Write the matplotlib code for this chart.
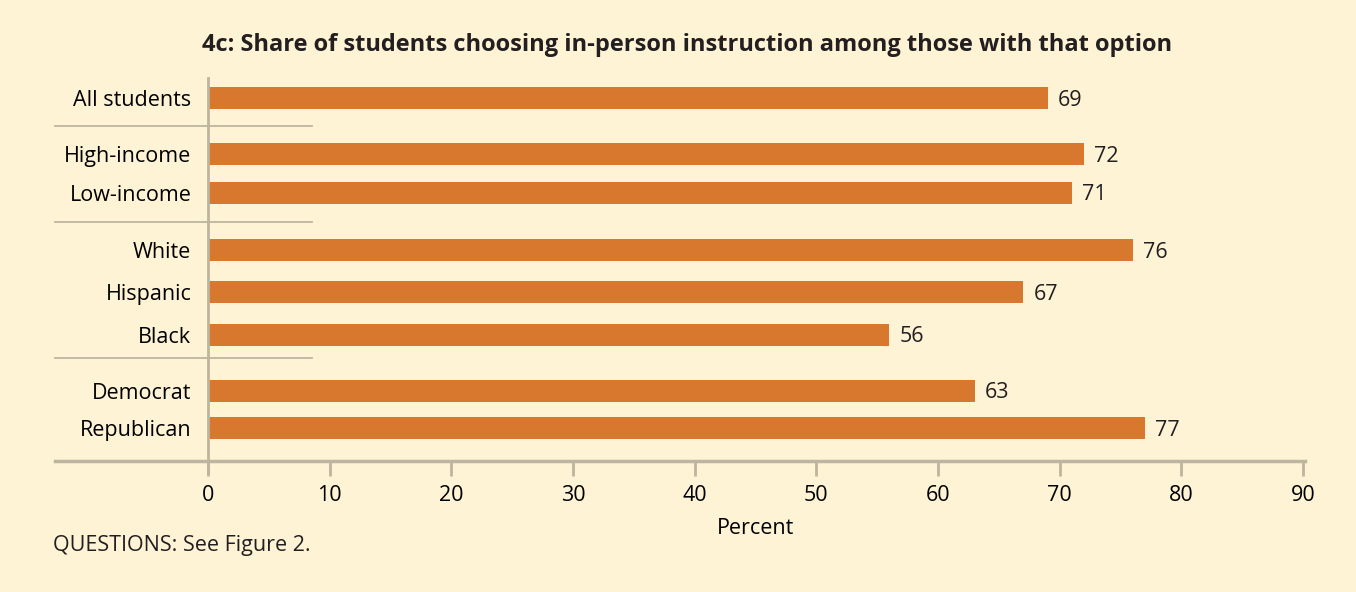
import matplotlib.pyplot as plt
from matplotlib.lines import Line2D

groups = ['All students', 'High-income', 'Low-income', 'White', 'Hispanic',
          'Black', 'Democrat', 'Republican']
values = [69, 72, 71, 76, 67, 56, 63, 77]
# row positions, with extra space between groups
rows = [0, 1.4, 2.375, 3.8, 4.85, 5.925, 7.325, 8.25]
separators = [0.7, 3.1, 6.5]
xticks = [0, 10, 20, 30, 40, 50, 60, 70, 80, 90]

bg = '#fef3d5'
bar_color = '#d8772e'
text_color = '#231f20'
line_color = '#bdb5a0'

plt.rcParams['font.family'] = ['Open Sans', 'DejaVu Sans']
plt.rcParams['text.color'] = text_color

fig = plt.figure(figsize=(13.56, 5.92), dpi=100, facecolor=bg)
W, H = 1356, 592
ax = fig.add_axes([208 / W, 1 - 461 / H, (1303 - 208) / W, (461 - 78) / H])
ax.set_facecolor(bg)

ax.barh(rows, values, height=0.55, color=bar_color, zorder=2)
for r, v in zip(rows, values):
    ax.text(v + 0.85, r + 0.05, str(v), va='center', ha='left', fontsize=15.5)

ax.set_xlim(0, 90)
ax.set_ylim(9.075, -0.5)
ax.set_yticks(rows)
ax.set_yticklabels(groups, fontsize=15.5)
ax.set_xticks(xticks)
ax.set_xticklabels([str(t) for t in xticks], fontsize=15.5)
ax.tick_params(axis='y', length=0, pad=12)
ax.tick_params(axis='x', length=11, width=2, color=line_color, pad=6)
for s in ax.spines.values():
    s.set_visible(False)

# vertical zero line
ax.plot([0, 0], [-0.5, 9.075 + 12 / 40], color=line_color, lw=2, clip_on=False, zorder=3)

# group separators reaching into the label area
for s in separators:
    ax.plot([-153 / (1095 / 90), 104 / (1095 / 90)], [s, s], color=line_color, lw=1.3,
            clip_on=False, zorder=1)

# bottom axis line extending to the left
fig.add_artist(Line2D([55 / W, 1305 / W], [1 - 461 / H, 1 - 461 / H],
                      color=line_color, lw=2.5))

ax.set_xlabel('Percent', fontsize=15.5, labelpad=9)
fig.text(687 / W, 1 - 45 / H,
         '4c: Share of students choosing in-person instruction among those with that option',
         ha='center', va='center', fontsize=17, fontweight='bold')
fig.text(53 / W, 1 - 546 / H, 'QUESTIONS: See Figure 2.', ha='left', va='center', fontsize=15.5)

fig.savefig('out.png', dpi=100, facecolor=bg)
